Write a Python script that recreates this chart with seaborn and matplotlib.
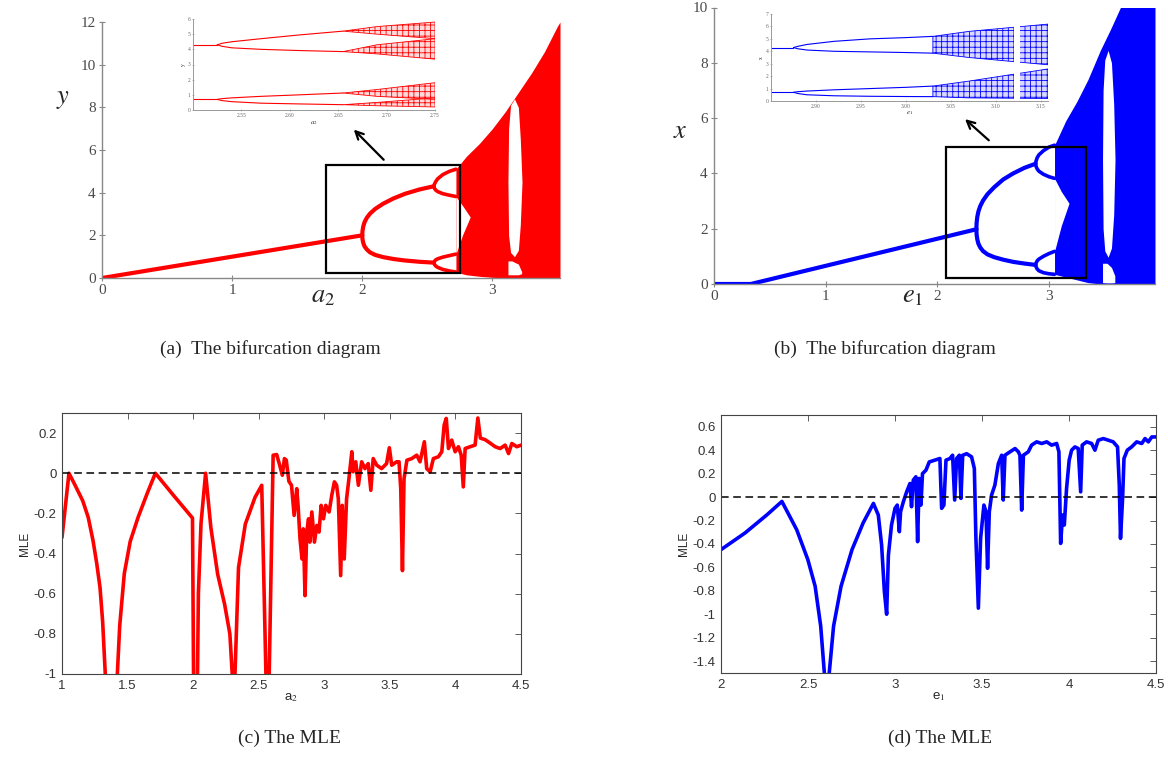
import numpy as np
import seaborn as sns
from matplotlib import pyplot as plt
from matplotlib.patches import Rectangle
from matplotlib.ticker import MultipleLocator

# ---------------- (a) bifurcation, red ----------------
a_p1_x = [0.0, 2.0]
a_p1_y = [0.0, 2.0]
a_p2_x = [2.0, 2.002, 2.008, 2.018, 2.035, 2.06, 2.1, 2.16, 2.24, 2.33, 2.44, 2.55]
a_p2_up = [2.0, 2.2, 2.42, 2.62, 2.82, 3.02, 3.24, 3.48, 3.73, 3.95, 4.15, 4.3]
a_p2_lo = [2.0, 1.82, 1.64, 1.48, 1.34, 1.2, 1.08, 0.98, 0.89, 0.82, 0.76, 0.72]
a_p4_x = [2.55, 2.555, 2.565, 2.58, 2.62, 2.67, 2.72]
a_p4_uu = [4.3, 4.4, 4.52, 4.65, 4.85, 5.0, 5.1]
a_p4_ul = [4.3, 4.2, 4.12, 4.05, 3.95, 3.88, 3.82]
a_p4_lu = [0.72, 0.78, 0.85, 0.9, 0.98, 1.05, 1.12]
a_p4_ll = [0.72, 0.64, 0.56, 0.5, 0.4, 0.33, 0.28]
a_ch_x = [2.72, 2.8, 2.9, 3.0, 3.1, 3.2, 3.3, 3.4, 3.5, 3.52]
a_ch_top = [5.1, 5.7, 6.3, 7.0, 7.8, 8.7, 9.6, 10.6, 11.8, 12.0]
a_ch_bot = [0.28, 0.15, 0.08, 0.03, 0.01, 0.0, 0.0, 0.0, 0.0, 0.0]
a_wedge_x = [2.72, 2.77, 2.83]
a_wedge_top = [3.82, 3.4, 2.86]
a_wedge_bot = [1.12, 2.0, 2.86]
a_win_x = [3.12, 3.125, 3.14, 3.17, 3.2, 3.215, 3.228]
a_win_top = [4.5, 7.0, 8.1, 8.4, 8.0, 6.5, 4.5]
a_win_bot = [4.5, 2.0, 1.2, 1.0, 1.3, 2.5, 4.5]
a_win2_x = [3.12, 3.15, 3.2, 3.225]
a_win2_top = [0.8, 0.8, 0.65, 0.3]
a_win2_bot = [0.15, 0.15, 0.15, 0.2]

# inset (a)
ia_p2_x = [2.50, 2.525]
ia_p4_x = [2.525, 2.53, 2.54, 2.57, 2.61, 2.655]
ia_uu = [4.3, 4.4, 4.5, 4.7, 4.95, 5.2]
ia_ul = [4.3, 4.2, 4.1, 4.0, 3.92, 3.85]
ia_lu = [0.7, 0.75, 0.8, 0.9, 1.0, 1.12]
ia_ll = [0.7, 0.62, 0.55, 0.45, 0.4, 0.35]
ia_ch_x = [2.655, 2.69, 2.75]
ia_b1_top = [5.2, 5.5, 5.8]
ia_b1_bot = [5.2, 5.0, 4.7]
ia_b2_top = [3.85, 4.3, 4.7]
ia_b2_bot = [3.85, 3.7, 3.35]
ia_b3_top = [1.12, 1.35, 1.8]
ia_b3_bot = [1.12, 0.9, 0.7]
ia_b4_top = [0.35, 0.5, 0.8]
ia_b4_bot = [0.35, 0.28, 0.2]

# ---------------- (b) bifurcation, blue ----------------
b_p1_x = [0.0, 0.33, 2.35]
b_p1_y = [0.0, 0.0, 1.98]
b_p2_x = [2.35, 2.352, 2.358, 2.368, 2.385, 2.41, 2.45, 2.51, 2.59, 2.68, 2.78, 2.88]
b_p2_up = [1.98, 2.2, 2.42, 2.62, 2.82, 3.02, 3.25, 3.5, 3.78, 4.0, 4.2, 4.35]
b_p2_lo = [1.98, 1.8, 1.62, 1.46, 1.32, 1.19, 1.07, 0.97, 0.88, 0.8, 0.74, 0.69]
b_p4_x = [2.88, 2.885, 2.895, 2.91, 2.95, 3.0, 3.05]
b_p4_uu = [4.35, 4.45, 4.57, 4.67, 4.82, 4.95, 5.02]
b_p4_ul = [4.35, 4.25, 4.16, 4.08, 3.97, 3.88, 3.82]
b_p4_lu = [0.69, 0.76, 0.84, 0.9, 1.0, 1.1, 1.18]
b_p4_ll = [0.69, 0.62, 0.54, 0.48, 0.41, 0.37, 0.35]
b_ch_x = [3.05, 3.15, 3.25, 3.35, 3.46, 3.55, 3.64, 3.95]
b_ch_top = [5.02, 5.9, 6.6, 7.4, 8.45, 9.2, 10.0, 10.0]
b_ch_bot = [0.35, 0.25, 0.15, 0.05, 0.0, 0.0, 0.0, 0.0]
b_wedge_x = [3.05, 3.11, 3.18]
b_wedge_top = [3.82, 3.35, 2.92]
b_wedge_bot = [1.18, 2.1, 2.92]
b_win_x = [3.48, 3.485, 3.5, 3.53, 3.56, 3.58, 3.592]
b_win_top = [4.5, 7.0, 8.1, 8.45, 8.0, 6.5, 4.5]
b_win_bot = [4.5, 2.0, 1.2, 0.97, 1.3, 2.5, 4.5]
b_win2_x = [3.48, 3.52, 3.56, 3.59]
b_win2_top = [0.75, 0.75, 0.6, 0.3]
b_win2_bot = [0.05, 0.04, 0.04, 0.05]

# inset (b)
ib_p2_x = [2.85, 2.875]
ib_p4_x = [2.875, 2.88, 2.89, 2.92, 2.96, 3.0, 3.03]
ib_uu = [4.3, 4.4, 4.55, 4.8, 5.0, 5.1, 5.2]
ib_ul = [4.3, 4.2, 4.1, 4.0, 3.95, 3.9, 3.85]
ib_lu = [0.7, 0.75, 0.8, 0.9, 1.0, 1.1, 1.2]
ib_ll = [0.7, 0.6, 0.5, 0.42, 0.38, 0.36, 0.35]
ib_ch_x = [3.03, 3.07, 3.16]
ib_b1_top = [5.2, 5.6, 6.2]
ib_b1_bot = [3.85, 3.5, 2.9]
ib_b2_top = [1.2, 1.6, 2.6]
ib_b2_bot = [0.35, 0.25, 0.2]

# ---------------- (c) MLE vs a2 ----------------
c_x = [1.0, 1.053, 1.1, 1.158, 1.2, 1.237, 1.265, 1.29, 1.31, 1.33, 1.375, 1.422, 1.44, 1.475,
       1.52, 1.58, 1.65, 1.712, 1.85, 1.995, 2.003, 2.012, 2.025, 2.04, 2.06, 2.095, 2.135,
       2.187, 2.24, 2.28, 2.298, 2.308, 2.319, 2.346, 2.398, 2.472, 2.523, 2.555, 2.565, 2.58,
       2.61, 2.637, 2.66, 2.68, 2.696, 2.71, 2.73, 2.75, 2.77, 2.79, 2.80, 2.815, 2.83, 2.84,
       2.853, 2.866, 2.88, 2.89, 2.905, 2.925, 2.943, 2.96, 2.976, 2.994, 3.011, 3.037, 3.057,
       3.077, 3.094, 3.107, 3.125, 3.137, 3.152, 3.17, 3.188, 3.21, 3.22, 3.24, 3.26, 3.285,
       3.31, 3.335, 3.355, 3.373, 3.4, 3.437, 3.475, 3.496, 3.514, 3.552, 3.57, 3.583, 3.596,
       3.608, 3.63, 3.667, 3.705, 3.73, 3.763, 3.781, 3.807, 3.832, 3.87, 3.896, 3.914, 3.93,
       3.947, 3.972, 3.998, 4.023, 4.044, 4.06, 4.074, 4.112, 4.15, 4.171, 4.19, 4.227, 4.265,
       4.303, 4.341, 4.379, 4.405, 4.43, 4.468, 4.5]
c_y = [-0.32, 0.0, -0.06, -0.137, -0.22, -0.337, -0.45, -0.57, -0.74, -1.0, -1.4, -1.0, -0.76,
       -0.5, -0.34, -0.22, -0.1, 0.0, -0.11, -0.223, -1.0, -1.5, -1.5, -0.6, -0.25, 0.0, -0.27,
       -0.503, -0.653, -0.8, -1.0, -1.4, -1.0, -0.47, -0.253, -0.12, -0.06, -1.0, -1.5, -1.0,
       0.09, 0.093, 0.04, -0.01, 0.073, 0.065, -0.04, -0.06, -0.21, -0.077, -0.16, -0.327,
       -0.427, -0.277, -0.61, -0.293, -0.227, -0.343, -0.193, -0.343, -0.26, -0.293, -0.16,
       -0.227, -0.16, -0.193, -0.11, -0.043, -0.06, -0.127, -0.51, -0.16, -0.427, -0.127,
       -0.027, 0.107, 0.007, 0.057, -0.06, 0.057, 0.023, 0.048, -0.085, 0.073, 0.04, 0.023,
       0.048, 0.127, 0.04, 0.057, 0.057, -0.077, -0.485, -0.027, 0.065, 0.073, 0.09, 0.057,
       0.157, 0.023, 0.007, 0.073, 0.082, 0.107, 0.24, 0.273, 0.123, 0.165, 0.107, 0.132,
       0.09, -0.068, 0.123, 0.132, 0.14, 0.275, 0.175, 0.167, 0.15, 0.132, 0.123, 0.14, 0.098,
       0.148, 0.132, 0.14]

# ---------------- (d) MLE vs e1 ----------------
d_x = [2.0, 2.138, 2.265, 2.35, 2.435, 2.499, 2.541, 2.573, 2.594, 2.61, 2.622, 2.647, 2.69,
       2.753, 2.817, 2.876, 2.904, 2.923, 2.939, 2.952, 2.962, 2.98, 3.0, 3.013, 3.025, 3.032,
       3.048, 3.067, 3.086, 3.095, 3.105, 3.12, 3.13, 3.139, 3.149, 3.158, 3.178, 3.197,
       3.229, 3.258, 3.268, 3.281, 3.293, 3.316, 3.331, 3.343, 3.354, 3.37, 3.379, 3.389,
       3.412, 3.44, 3.456, 3.465, 3.479, 3.492, 3.511, 3.523, 3.532, 3.542, 3.555, 3.574,
       3.594, 3.613, 3.622, 3.632, 3.661, 3.69, 3.709, 3.718, 3.728, 3.738, 3.766, 3.785,
       3.814, 3.843, 3.872, 3.9, 3.929, 3.942, 3.952, 3.963, 3.973, 3.986, 4.001, 4.015,
       4.034, 4.053, 4.067, 4.076, 4.101, 4.13, 4.149, 4.168, 4.197, 4.226, 4.254, 4.279,
       4.289, 4.296, 4.308, 4.316, 4.335, 4.36, 4.389, 4.418, 4.437, 4.456, 4.476, 4.5]
d_y = [-0.448, -0.306, -0.15, -0.037, -0.278, -0.533, -0.76, -1.1, -1.5, -1.7, -1.5, -1.1,
       -0.76, -0.448, -0.22, -0.054, -0.153, -0.408, -0.806, -0.999, -0.494, -0.238, -0.096,
       -0.068, -0.295, -0.125, -0.04, 0.045, 0.116, -0.082, 0.145, 0.173, -0.38, 0.159,
       -0.068, 0.2, 0.23, 0.3, 0.315, 0.329, -0.096, -0.068, 0.315, 0.329, 0.357, -0.025,
       0.329, 0.357, -0.011, 0.357, 0.37, 0.343, 0.244, -0.352, -0.947, -0.352, -0.068,
       -0.125, -0.607, -0.125, 0.017, 0.102, 0.286, 0.357, -0.025, 0.357, 0.386, 0.414, 0.386,
       0.357, -0.111, 0.357, 0.386, 0.443, 0.471, 0.457, 0.471, 0.443, 0.457, 0.386, -0.395,
       -0.153, -0.238, 0.073, 0.315, 0.4, 0.428, 0.414, 0.045, 0.443, 0.471, 0.457, 0.4,
       0.485, 0.499, 0.485, 0.471, 0.428, 0.102, -0.352, -0.011, 0.329, 0.4, 0.428, 0.471,
       0.457, 0.499, 0.471, 0.513, 0.513]

RED = '#ff0000'
BLUE = '#0000ff'

sns.set_style('white')
plt.rcParams['font.family'] = ['Liberation Serif', 'DejaVu Serif']
plt.rcParams['mathtext.fontset'] = 'stix'
plt.rcParams['hatch.linewidth'] = 0.6

fig = plt.figure(figsize=(11.68, 7.58), dpi=100)
W, H = 1168.0, 758.0


def box(x0, y0, x1, y1):
    return [x0 / W, 1 - y1 / H, (x1 - x0) / W, (y1 - y0) / H]


def line(ax, x, y, color, lw):
    sns.lineplot(x=x, y=y, ax=ax, color=color, linewidth=lw, sort=False,
                 estimator=None, legend=False)


def maple_axes(ax, xmax, ymax, ymaj, ymin):
    for s in ['top', 'right']:
        ax.spines[s].set_visible(False)
    for s in ['left', 'bottom']:
        ax.spines[s].set_color('#888888')
        ax.spines[s].set_linewidth(1.0)
    ax.set_xlim(0, xmax)
    ax.set_ylim(0, ymax)
    ax.xaxis.set_major_locator(MultipleLocator(1))
    ax.xaxis.set_minor_locator(MultipleLocator(0.5))
    ax.yaxis.set_major_locator(MultipleLocator(ymaj))
    ax.yaxis.set_minor_locator(MultipleLocator(ymin))
    ax.tick_params(which='major', direction='inout', length=5, width=0.8, color='#888888',
                   labelsize=11, labelcolor='#4a4a4a', pad=2)
    ax.tick_params(which='minor', direction='inout', length=3, width=0.6, color='#888888')
    ax.tick_params(axis='x', bottom=True)
    ax.tick_params(axis='y', left=True)
    ax.grid(False)


def inset_axes_style(ax, xlo, xhi, ytop, xticks):
    for s in ['top', 'right']:
        ax.spines[s].set_visible(False)
    for s in ['left', 'bottom']:
        ax.spines[s].set_color('#999999')
        ax.spines[s].set_linewidth(0.7)
    ax.set_xlim(xlo, xhi)
    ax.set_ylim(0, ytop)
    ax.set_xticks(xticks)
    ax.set_xticklabels(['%.2f' % t for t in xticks])
    ax.set_yticks(range(0, ytop + 1))
    ax.tick_params(which='major', direction='inout', length=2, width=0.5, color='#999999',
                   labelsize=4, labelcolor='#666666', pad=1)
    ax.tick_params(axis='x', bottom=True)
    ax.tick_params(axis='y', left=True)
    ax.patch.set_alpha(0)


# ---------- panel (a) ----------
ax_a = fig.add_axes(box(102, 22, 560, 278))
line(ax_a, a_p1_x, a_p1_y, RED, 3.0)
for yy in (a_p2_up, a_p2_lo):
    line(ax_a, a_p2_x, yy, RED, 3.0)
for yy in (a_p4_uu, a_p4_ul, a_p4_lu, a_p4_ll):
    line(ax_a, a_p4_x, yy, RED, 2.6)
ax_a.fill_between(a_ch_x, a_ch_bot, a_ch_top, color=RED, lw=0)
ax_a.fill_between(a_wedge_x, a_wedge_bot, a_wedge_top, color='white', lw=0)
ax_a.fill_between(a_win_x, a_win_bot, a_win_top, color='white', lw=0)
ax_a.fill_between(a_win2_x, a_win2_bot, a_win2_top, color='white', lw=0)
maple_axes(ax_a, 3.52, 12, 2, 1)
ax_a.add_patch(Rectangle((1.72, 0.23), 1.03, 5.07, fill=False, ec='black', lw=1.6, zorder=5))
ax_a.annotate('', xy=(1.92, 7.05), xytext=(2.18, 5.45),
              arrowprops=dict(arrowstyle='->', color='black', lw=1.6, mutation_scale=14))
fig.text(63 / W, 1 - 100 / H, r'$y$', fontsize=19, ha='center', va='center')
fig.text(323 / W, 1 - 297 / H, r'$a_2$', fontsize=19, ha='center', va='center')

ia = fig.add_axes(box(193, 19, 435, 110))
line(ia, ia_p2_x, [4.3, 4.3], RED, 0.8)
line(ia, ia_p2_x, [0.7, 0.7], RED, 0.8)
for yy in (ia_uu, ia_ul, ia_lu, ia_ll):
    line(ia, ia_p4_x, yy, RED, 0.8)
for top, bot in ((ia_b1_top, ia_b1_bot), (ia_b2_top, ia_b2_bot),
                 (ia_b3_top, ia_b3_bot), (ia_b4_top, ia_b4_bot)):
    ia.fill_between(ia_ch_x, bot, top, facecolor=(1, 0, 0, 0.15), edgecolor=RED,
                    hatch='+++', lw=0.6)
inset_axes_style(ia, 2.50, 2.75, 6, [2.55, 2.60, 2.65, 2.70, 2.75])
ia.set_ylabel('y', fontsize=4, labelpad=1)
ia.set_xlabel(r'$a_2$', fontsize=5, labelpad=0)

# ---------- panel (b) ----------
ax_b = fig.add_axes(box(714, 7.5, 1155, 284))
line(ax_b, b_p1_x, b_p1_y, BLUE, 3.0)
for yy in (b_p2_up, b_p2_lo):
    line(ax_b, b_p2_x, yy, BLUE, 3.0)
for yy in (b_p4_uu, b_p4_ul, b_p4_lu, b_p4_ll):
    line(ax_b, b_p4_x, yy, BLUE, 2.6)
ax_b.fill_between(b_ch_x, b_ch_bot, b_ch_top, color=BLUE, lw=0)
ax_b.fill_between(b_wedge_x, b_wedge_bot, b_wedge_top, color='white', lw=0)
ax_b.fill_between(b_win_x, b_win_bot, b_win_top, color='white', lw=0)
ax_b.fill_between(b_win2_x, b_win2_bot, b_win2_top, color='white', lw=0)
maple_axes(ax_b, 3.95, 10, 2, 1)
ax_b.add_patch(Rectangle((2.08, 0.22), 1.25, 4.73, fill=False, ec='black', lw=1.6, zorder=5))
ax_b.annotate('', xy=(2.23, 6.03), xytext=(2.48, 5.13),
              arrowprops=dict(arrowstyle='->', color='black', lw=1.6, mutation_scale=14))
fig.text(680 / W, 1 - 132 / H, r'$x$', fontsize=19, ha='center', va='center')
fig.text(913 / W, 1 - 297 / H, r'$e_1$', fontsize=19, ha='center', va='center')

ib = fig.add_axes(box(771, 14, 1048, 101))
line(ib, ib_p2_x, [4.3, 4.3], BLUE, 0.8)
line(ib, ib_p2_x, [0.7, 0.7], BLUE, 0.8)
for yy in (ib_uu, ib_ul, ib_lu, ib_ll):
    line(ib, ib_p4_x, yy, BLUE, 0.8)
for top, bot in ((ib_b1_top, ib_b1_bot), (ib_b2_top, ib_b2_bot)):
    ib.fill_between(ib_ch_x, bot, top, facecolor=(0, 0, 1, 0.15), edgecolor=BLUE,
                    hatch='+++', lw=0.6)
ib.axvspan(3.12, 3.127, color='white', lw=0)
inset_axes_style(ib, 2.85, 3.158, 7, [2.90, 2.95, 3.00, 3.05, 3.10, 3.15])
ib.set_ylabel('x', fontsize=4, labelpad=1)
ib.set_xlabel(r'$e_1$', fontsize=5, labelpad=0)


# ---------- panels (c), (d) ----------
def matlab_axes(ax):
    for s in ax.spines.values():
        s.set_visible(True)
        s.set_color('#444444')
        s.set_linewidth(0.8)
    ax.tick_params(direction='in', length=4, width=0.6, color='#444444', top=True,
                   right=True, labelsize=9.5, labelcolor='#333333', pad=4)
    for lab in ax.get_xticklabels() + ax.get_yticklabels():
        lab.set_fontfamily('Liberation Sans')
    ax.grid(False)


ax_c = fig.add_axes(box(62, 413, 521, 674))
line(ax_c, c_x, c_y, RED, 2.6)
ax_c.axhline(0, color='black', lw=1.1, ls=(0, (5, 3)))
ax_c.set_xlim(1, 4.5)
ax_c.set_ylim(-1, 0.3)
ax_c.set_xticks([1, 1.5, 2, 2.5, 3, 3.5, 4, 4.5])
ax_c.set_xticklabels(['1', '1.5', '2', '2.5', '3', '3.5', '4', '4.5'])
ax_c.set_yticks([-1, -0.8, -0.6, -0.4, -0.2, 0, 0.2])
ax_c.set_yticklabels(['-1', '-0.8', '-0.6', '-0.4', '-0.2', '0', '0.2'])
matlab_axes(ax_c)
ax_c.set_ylabel('MLE', fontsize=8.5, family='Liberation Sans', labelpad=2)
ax_c.set_xlabel(r'a$_2$', fontsize=9.5, family='Liberation Sans', labelpad=0)

ax_d = fig.add_axes(box(721, 415, 1156, 673))
line(ax_d, d_x, d_y, BLUE, 2.6)
ax_d.axhline(0, color='black', lw=1.1, ls=(0, (5, 3)))
ax_d.set_xlim(2, 4.5)
ax_d.set_ylim(-1.5, 0.7)
ax_d.set_xticks([2, 2.5, 3, 3.5, 4, 4.5])
ax_d.set_xticklabels(['2', '2.5', '3', '3.5', '4', '4.5'])
ax_d.set_yticks([-1.4, -1.2, -1, -0.8, -0.6, -0.4, -0.2, 0, 0.2, 0.4, 0.6])
ax_d.set_yticklabels(['-1.4', '-1.2', '-1', '-0.8', '-0.6', '-0.4', '-0.2', '0', '0.2',
                      '0.4', '0.6'])
matlab_axes(ax_d)
ax_d.set_ylabel('MLE', fontsize=8.5, family='Liberation Sans', labelpad=2)
ax_d.set_xlabel(r'e$_1$', fontsize=9.5, family='Liberation Sans', labelpad=0)

# captions
fig.text(270 / W, 1 - 349 / H, '(a)  The bifurcation diagram', fontsize=14,
         ha='center', va='center')
fig.text(885 / W, 1 - 349 / H, '(b)  The bifurcation diagram', fontsize=14,
         ha='center', va='center')
fig.text(290 / W, 1 - 738 / H, '(c) The MLE', fontsize=14, ha='center', va='center')
fig.text(940 / W, 1 - 738 / H, '(d) The MLE', fontsize=14, ha='center', va='center')

fig.savefig('out.png', dpi=100)
